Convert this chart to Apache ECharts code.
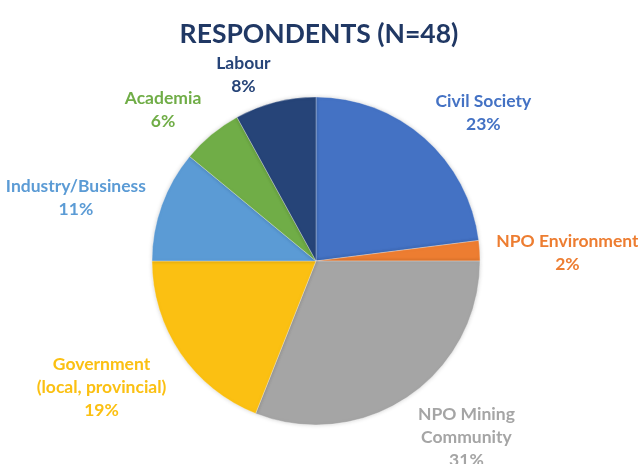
<!DOCTYPE html>
<html>
<head>
<meta charset="utf-8">
<script src="https://cdn.jsdelivr.net/npm/echarts@6/dist/echarts.min.js"></script>
<style>html,body{margin:0;padding:0;background:#fff}#c{width:638px;height:464px}</style>
</head>
<body>
<div id="c"></div>
<script>
const titleText = 'RESPONDENTS (N=48)';
const categories = ['Civil Society', 'NPO Environment', 'NPO Mining\nCommunity', 'Government\n(local, provincial)', 'Industry/Business', 'Academia', 'Labour'];
const values = [23, 2, 31, 19, 11, 6, 8];
const colors = ['#4472C4', '#ED7D31', '#A5A5A5', '#FBC012', '#5B9BD5', '#70AD47', '#264478'];

const CX = 316, CY = 261, R = 164, GAP = 13;
const total = values.reduce((a, b) => a + b, 0);
const cum = [];
values.reduce((acc, v, i) => { cum[i] = acc; return acc + v; }, 0);
const clamp = v => Math.max(-1, Math.min(1, v));

const chart = echarts.init(document.getElementById('c'), null, {renderer: 'canvas'});
chart.setOption({
  animation: false,
  title: {
    text: titleText,
    left: 'center',
    top: 16,
    textStyle: {fontFamily: 'Lato', fontWeight: 'bold', fontSize: 26.5, color: '#203864'}
  },
  series: [{
    type: 'pie',
    center: [CX, CY],
    radius: R,
    startAngle: 90,
    clockwise: true,
    avoidLabelOverlap: false,
    itemStyle: {borderColor: 'rgba(255,255,255,0.6)', borderWidth: 0.5, shadowBlur: 4, shadowColor: 'rgba(0,0,0,0.18)'},
    label: {
      show: true,
      position: 'outside',
      formatter: '{b}\n{c}%',
      fontFamily: 'Lato',
      fontWeight: 'bold',
      fontSize: 17.5,
      lineHeight: 23
    },
    labelLine: {show: false},
    labelLayout: function (p) {
      const i = p.dataIndex;
      const mid = (cum[i] + values[i] / 2) / total * Math.PI * 2;
      const ux = Math.sin(mid), uy = -Math.cos(mid);
      const px = CX + (R + GAP) * ux, py = CY + (R + GAP) * uy;
      const w = p.labelRect.width / 2, h = p.labelRect.height / 2;
      const sy = Math.sign(uy) * clamp(Math.max(0, Math.abs(uy) - 0.2) * 2.5);
      return {
        x: px + Math.sign(ux) * w * 1.05,
        y: py + h * 0.78 * sy + 3,
        align: 'center',
        verticalAlign: 'middle'
      };
    },
    data: categories.map((n, i) => ({
      name: n,
      value: values[i],
      itemStyle: {color: colors[i]},
      label: {color: colors[i]}
    }))
  }]
});
</script>
</body>
</html>
